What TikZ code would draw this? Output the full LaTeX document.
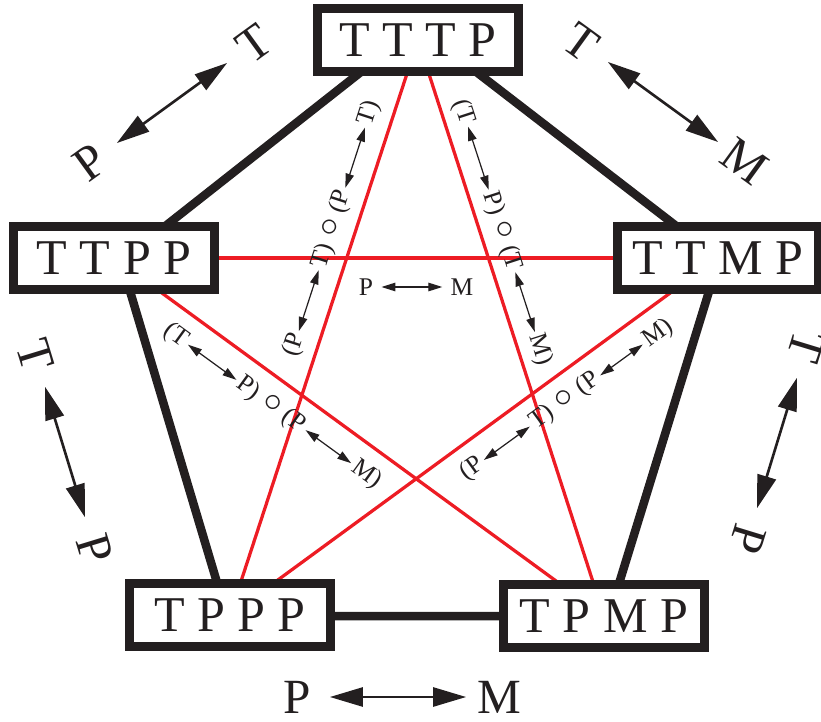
\documentclass[tikz,border=0pt]{standalone}
\usepackage{fontspec}
\setmainfont{Liberation Serif}
\definecolor{pentared}{RGB}{237,28,36}
\definecolor{pentablack}{RGB}{35,31,32}
\usetikzlibrary{arrows.meta, backgrounds}
\newcommand{\ringop}{\hspace{0.3em}{\fontsize{20}{20}\selectfont$\circ$}\hspace{0.3em}}

\begin{document}
\begin{tikzpicture}[x=0.02cm, y=0.02cm,
  cfg/.style={draw=pentablack, line width=0.18cm, fill=white, text=pentablack, minimum width=4.02cm, minimum height=1.26cm, inner sep=0pt, font=\fontsize{28.5}{30}\selectfont},
  rim/.style={pentablack, line width=0.17cm, line join=round},
  chord/.style={pentared, line width=0.065cm},
  outl/.style={text=pentablack, minimum width=1.3cm, inner sep=0pt, font=\fontsize{28}{30}\selectfont},
  inl/.style={text=pentablack, inner xsep=0.06cm, inner ysep=0pt, font=\fontsize{14.5}{16}\selectfont},
  bigarr/.style={{Triangle[length=0.66cm, width=0.38cm]}-{Triangle[length=0.66cm, width=0.38cm]}, line width=1.5pt, pentablack},
  smallarr/.style={{Triangle[length=0.28cm, width=0.17cm]}-{Triangle[length=0.28cm, width=0.17cm]}, line width=0.7pt, pentablack}
]
\useasboundingbox (0,0) rectangle (821,721);

\node[cfg] (tttp) at (418,681) {T T T P};
\node[cfg] (ttpp) at (114,463) {T T P P};
\node[cfg] (ttmp) at (718,463) {T T M P};
\node[cfg] (tppp) at (230,106) {T P P P};
\node[cfg] (tpmp) at (604,105) {T P M P};

\coordinate (pT)  at (418,694);
\coordinate (pL)  at (121,460);
\coordinate (pR)  at (719,462);
\coordinate (pBL) at (227,105);
\coordinate (pBR) at (609,105);

\begin{pgfonlayer}{background}
\draw[rim] (pT) -- (pL) -- (pBL) -- (pBR) -- (pR) -- cycle;
\draw[chord] (tttp.center) -- (tppp.center);
\draw[chord] (tttp.center) -- (tpmp.center);
\draw[chord] (ttpp.center) -- (ttmp.center);
\draw[chord] (ttpp.center) -- (tpmp.center);
\draw[chord] (ttmp.center) -- (tppp.center);
\end{pgfonlayer}

\begin{scope}[shift={(172,618)}, rotate=36, transform shape]
  \node[outl] (ulp) at (-101,0) {P};
  \node[outl] (ult) at (101,0) {T};
  \draw[bigarr] (ulp) -- (ult);
\end{scope}
\begin{scope}[shift={(663,619)}, rotate=-36, transform shape]
  \node[outl] (urt) at (-101,0) {T};
  \node[outl] (urm) at (101,0) {M};
  \draw[bigarr] (urt) -- (urm);
\end{scope}
\begin{scope}[shift={(65,269)}, rotate=-73, transform shape]
  \node[outl] (lft) at (-101,0) {T};
  \node[outl] (lfp) at (101,0) {P};
  \draw[bigarr] (lft) -- (lfp);
\end{scope}
\begin{scope}[shift={(777,278)}, rotate=-107, transform shape]
  \node[outl] (rgt) at (-101,0) {T};
  \node[outl] (rgp) at (101,0) {P};
  \draw[bigarr] (rgt) -- (rgp);
\end{scope}
\begin{scope}[shift={(398,24)}]
  \node[outl] (btp) at (-101,0) {P};
  \node[outl] (btm) at (101,0) {M};
  \draw[bigarr] (btp) -- (btm);
\end{scope}

\begin{scope}[shift={(332,492)}, rotate=72, transform shape]
  \node[inl] (a1) at (-122,0) {(P};
  \node[inl] (a2) at (0,0) {T)\ringop(P};
  \node[inl] (a3) at (122,0) {T)};
  \draw[smallarr] (a1) -- (a2);
  \draw[smallarr] (a2) -- (a3);
\end{scope}
\begin{scope}[shift={(502,490)}, rotate=-72, transform shape]
  \node[inl] (b1) at (-125,0) {(T};
  \node[inl] (b2) at (0,0) {P)\ringop(T};
  \node[inl] (b3) at (125,0) {M)};
  \draw[smallarr] (b1) -- (b2);
  \draw[smallarr] (b2) -- (b3);
\end{scope}
\begin{scope}[shift={(271,316)}, rotate=-36, transform shape]
  \node[inl] (c1) at (-118,0) {(T};
  \node[inl] (c2) at (0,0) {P)\ringop(P};
  \node[inl] (c3) at (118,0) {M)};
  \draw[smallarr] (c1) -- (c2);
  \draw[smallarr] (c2) -- (c3);
\end{scope}
\begin{scope}[shift={(565,320)}, rotate=36, transform shape]
  \node[inl] (d1) at (-115,0) {(P};
  \node[inl] (d2) at (0,0) {T)\ringop(P};
  \node[inl] (d3) at (115,0) {M)};
  \draw[smallarr] (d1) -- (d2);
  \draw[smallarr] (d2) -- (d3);
\end{scope}

\node[inl, inner xsep=0.16cm] (cp) at (366,434) {P};
\node[inl, inner xsep=0.16cm] (cm) at (462,434) {M};
\draw[smallarr] (cp) -- (cm);

\end{tikzpicture}
\end{document}
